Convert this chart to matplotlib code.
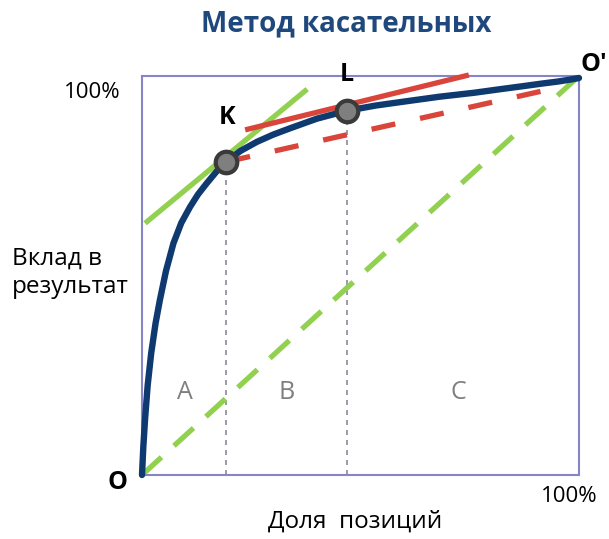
import numpy as np
import matplotlib
matplotlib.use('Agg')
import matplotlib.pyplot as plt

plt.rcParams['font.family'] = ['Open Sans', 'DejaVu Sans']

# Кривая Парето (доля позиций -> вклад в результат)
curve_x = [0, 0.003, 0.007, 0.013, 0.021, 0.031, 0.041, 0.055, 0.072, 0.090, 0.110,
           0.128, 0.148, 0.170, 0.193, 0.225, 0.263, 0.300, 0.339, 0.40, 0.469,
           0.535, 0.607, 0.680, 0.760, 0.820, 0.875, 0.915, 0.951, 0.980, 1.0]
curve_y = [0, 0.07, 0.14, 0.225, 0.305, 0.38, 0.439, 0.512, 0.581, 0.632, 0.672,
           0.703, 0.731, 0.760, 0.785, 0.812, 0.835, 0.853, 0.869, 0.893, 0.913,
           0.926, 0.937, 0.948, 0.958, 0.967, 0.975, 0.981, 0.986, 0.991, 0.995]

# точки касания
point_k = (0.193, 0.785)
point_l = (0.469, 0.913)

# касательные
green_tangent_x = [0.007, 0.378]
green_tangent_y = [0.631, 0.967]
red_tangent_x = [0.236, 0.748]
red_tangent_y = [0.865, 1.0025]
red_dash_end = (0.943, 0.969)

zone_labels = ['A', 'B', 'C']
zone_x = [0.098, 0.332, 0.723]

navy = '#0E3A70'
green = '#92D050'
red = '#D9453A'

fig = plt.figure(figsize=(6.09, 5.39), dpi=100)
ax = fig.add_axes([142 / 609, 1 - 475 / 539, 437 / 609, 399 / 539])
ax.set_xlim(0, 1)
ax.set_ylim(0, 1)
ax.set_xticks([])
ax.set_yticks([])
for s in ax.spines.values():
    s.set_color('#8585C8')
    s.set_linewidth(1.5)

# диагональ O-O'
ax.plot([0, 1], [0, 1], color=green, lw=3.8, dashes=(5.0, 3.2), zorder=2, clip_on=False)

# вертикальные пунктиры
ax.plot([point_k[0], point_k[0]], [0, point_k[1]], color='#8A8A96', lw=1.2, dashes=(3, 3), zorder=1)
ax.plot([point_l[0], point_l[0]], [0, point_l[1]], color='#8A8A96', lw=1.2, dashes=(3, 3), zorder=1)

# касательные
ax.plot(green_tangent_x, green_tangent_y, color=green, lw=3.8, solid_capstyle='butt', zorder=3)
ax.plot(red_tangent_x, red_tangent_y, color=red, lw=3.8, solid_capstyle='butt', zorder=3, clip_on=False)
ax.plot([point_k[0], red_dash_end[0]], [point_k[1], red_dash_end[1]], color=red, lw=3.8,
        dashes=(4.6, 4.8), zorder=3)

# сама кривая
ax.plot(curve_x, curve_y, color=navy, lw=4.6, zorder=4, clip_on=False, solid_capstyle='round')

# точки K и L
ax.plot([point_k[0], point_l[0]], [point_k[1], point_l[1]], 'o', ms=15.5, mfc='#7F7F7F',
        mec='#3A3A3A', mew=3, zorder=5, clip_on=False)

for lab, x in zip(zone_labels, zone_x):
    ax.text(x, 0.208, lab, color='#7F7F7F', fontsize=18, ha='center', va='center')

ax.text(0.195, 0.895, 'K', fontsize=18, fontweight='bold', ha='center', va='center')
ax.text(0.469, 1.005, 'L', fontsize=18, fontweight='bold', ha='center', va='center')
ax.text(-0.055, -0.018, 'O', fontsize=18, fontweight='bold', ha='center', va='center')
ax.text(1.033, 1.03, "O'", fontsize=18, fontweight='bold', ha='center', va='center')

fig.text(346 / 609, 1 - 24 / 539, 'Метод касательных', fontsize=20, fontweight='bold',
         color='#1F497D', ha='center', va='center')
fig.text(92 / 609, 1 - 92 / 539, '100%', fontsize=16, ha='center', va='center')
fig.text(569 / 609, 1 - 497 / 539, '100%', fontsize=16, ha='center', va='center')
fig.text(12 / 609, 1 - 273 / 539, 'Вклад в\nрезультат', fontsize=17.5, ha='left', va='center',
         linespacing=1.25)
fig.text(355 / 609, 1 - 522 / 539, 'Доля  позиций', fontsize=17.5, ha='center', va='center')

fig.savefig('out.png', dpi=100)
